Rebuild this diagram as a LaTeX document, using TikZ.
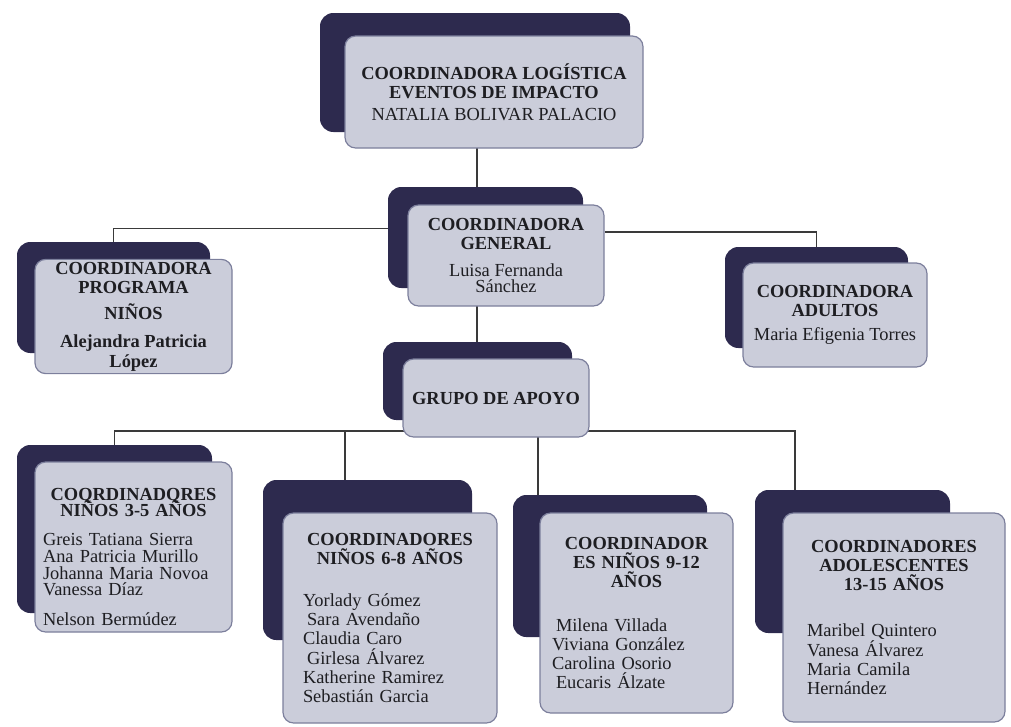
\documentclass[tikz,border=0pt]{standalone}
\usepackage{fontspec}
\setmainfont{Liberation Serif}
\usepackage{tikz}
\usetikzlibrary{backgrounds}
\definecolor{darkbox}{HTML}{2D2A4E}
\definecolor{lightbox}{HTML}{CBCDDA}
\definecolor{edgebox}{HTML}{7C7F9C}
\definecolor{ink}{HTML}{1E1E22}
\definecolor{linkgray}{HTML}{3A3A3A}
\newcommand{\orgfont}{\fontsize{13.8}{14.4}\selectfont}

\begin{document}
\begin{tikzpicture}[x=0.75pt,y=-0.75pt,
 back/.style={draw=none,fill=darkbox,rounded corners=10pt,inner sep=0pt},
 front/.style={draw=edgebox,line width=0.9pt,fill=lightbox,rounded corners=8pt,inner sep=2pt,align=center,text=ink,font=\orgfont},
 listbox/.style={front,align=left,inner ysep=2pt},
 link/.style={draw=linkgray,line width=1pt}]
\useasboundingbox (0,0) rectangle (1011,726);

\node[back,minimum width=232.5pt,minimum height=89.25pt] (logdark) at (475,72.5){};
\node[front,minimum width=223.5pt,minimum height=84pt] (loglight) at (494,92){\textbf{COORDINADORA LOGÍSTICA}\\\textbf{EVENTOS DE IMPACTO}\\[2pt]NATALIA BOLIVAR PALACIO};

\node[back,minimum width=146.25pt,minimum height=75.75pt] (gendark) at (485.5,237.5){};
\node[front,minimum width=147pt,minimum height=75.75pt] (genlight) at (506,255.5){\textbf{COORDINADORA}\\\textbf{GENERAL}\\[6pt]Luisa Fernanda\\[-2pt]Sánchez};

\node[back,minimum width=144.75pt,minimum height=83.25pt] (ninosdark) at (113.5,297.5){};
\node[front,minimum width=147.75pt,minimum height=84.75pt] (ninoslight) at (133.5,316.5){\textbf{COORDINADORA}\\\textbf{PROGRAMA}\\[5pt]\textbf{NIÑOS}\\[7pt]\textbf{Alejandra Patricia}\\\textbf{López}};

\node[back,minimum width=137.25pt,minimum height=75.75pt] (adultosdark) at (816.5,297.5){};
\node[front,minimum width=138pt,minimum height=78pt] (adultoslight) at (835,315){\textbf{COORDINADORA}\\\textbf{ADULTOS}\\[4pt]Maria Efigenia Torres};

\node[back,minimum width=141.75pt,minimum height=58.5pt] (apoyodark) at (477.5,381){};
\node[front,minimum width=139.5pt,minimum height=58.5pt] (apoyolight) at (496,398){\textbf{GRUPO DE APOYO}};

\node[back,minimum width=146.25pt,minimum height=126pt] (tresdark) at (114.5,529){};
\node[listbox,inner xsep=6pt,text width=135.75pt,minimum height=127.5pt] (treslight) at (133.5,547){{\centering\bfseries COQRDINADQRES\\[-2pt]NIÑOS 3-5 AÑOS\par}\vspace{9pt}{\fontsize{13.8}{12.6}\selectfont Greis Tatiana Sierra\\Ana Patricia Murillo\\Johanna Maria Novoa\\Vanessa Díaz\\[10pt]Nelson Bermúdez\par}\vspace{-15pt}};

\node[back,minimum width=156.75pt,minimum height=120pt] (seisdark) at (367.5,560){};
\node[listbox,inner xsep=15pt,text width=130.5pt,minimum height=157.5pt] (seislight) at (390,618){{\centering\bfseries COORDINADORES\\NIÑOS 6-8 AÑOS\par}\vspace{17pt}Yorlady Gómez\\\hspace*{3pt}Sara Avendaño\\Claudia Caro\\\hspace*{3pt}Girlesa Álvarez\\Katherine Ramirez\\Sebastián Garcia};

\node[back,minimum width=145.5pt,minimum height=106.5pt] (nuevedark) at (610,566){};
\node[listbox,inner xsep=9pt,text width=126.75pt,minimum height=150pt] (nuevelight) at (636.5,613){{\centering\bfseries COORDINADOR\\ES NIÑOS 9-12\\AÑOS\par}\vspace{18pt}\hspace*{3pt}Milena Villada\\Viviana González\\Carolina Osorio\\\hspace*{3pt}Eucaris Álzate\\[11pt]};

\node[back,minimum width=146.25pt,minimum height=107.25pt] (adoldark) at (852.5,561.5){};
\node[listbox,inner xsep=18pt,text width=130.5pt,minimum height=156.75pt] (adollight) at (894,617.5){{\centering\bfseries COORDINADORES\\ADOLESCENTES\\13-15 AÑOS\par}\vspace{20pt}Maribel Quintero\\Vanesa Álvarez\\Maria Camila\\Hernández\\[19pt]};

\coordinate (spine) at (477,0);
\coordinate (bus) at (496,431);

\begin{scope}[on background layer]
\draw[link] (spine |- loglight.center) -- (spine |- gendark.center);
\draw[link] (spine |- genlight.center) -- (spine |- apoyodark.center);
\draw[link] ([yshift=7pt]gendark.west) -| (ninosdark.north);
\draw[link] ([yshift=17.6pt]genlight.east) -| (adultosdark.north);
\draw[link] (bus) -| (tresdark.north);
\draw[link] (bus) -| ([xshift=-16.9pt]seisdark.north);
\draw[link] (bus) -| ([xshift=-54pt]nuevedark.north);
\draw[link] (bus) -| ([xshift=-43.1pt]adoldark.north);
\end{scope}
\end{tikzpicture}
\end{document}
